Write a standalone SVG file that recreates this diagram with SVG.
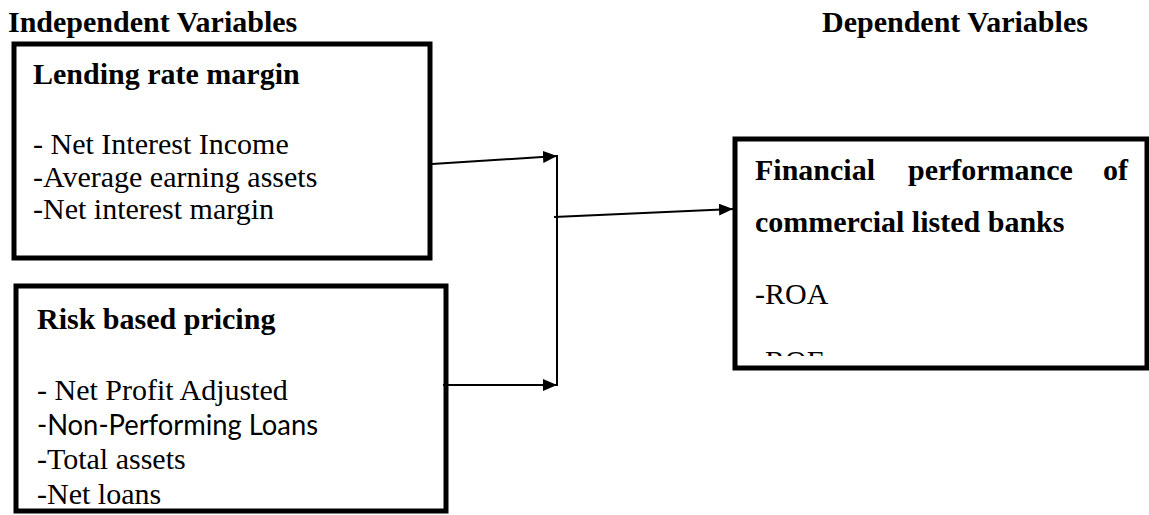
<svg xmlns="http://www.w3.org/2000/svg" width="1149" height="515" viewBox="0 0 1149 515">
<style>
.hd{font-family:"Liberation Serif","Times New Roman",serif;font-weight:bold;font-size:30px;fill:#000}
.tx{font-family:"Liberation Serif","Times New Roman",serif;font-size:30px;fill:#000}
.sans{font-family:Lato,"Liberation Sans",sans-serif;font-size:29px;fill:#000}
.box{fill:#fff;stroke:#000;stroke-width:5}
.conn{stroke:#000;stroke-width:2;fill:none}
</style>
<defs>
<marker id="arr" viewBox="0 0 14 12" refX="14" refY="6" markerWidth="14" markerHeight="12" markerUnits="userSpaceOnUse" orient="auto">
<path d="M0,0 L14,6 L0,12 Z" fill="#000"/>
</marker>
<clipPath id="c2"><rect x="16" y="286" width="430" height="218"/></clipPath>
<clipPath id="c3"><rect x="735" y="139" width="410" height="217"/></clipPath>
</defs>
<rect width="1149" height="515" fill="#fff"/>
<text class="hd" x="8" y="32">Independent Variables</text>
<text class="hd" x="822" y="32">Dependent Variables</text>
<g id="lending">
<rect class="box" x="14" y="44" width="416" height="214"/>
<text class="hd" x="33" y="84">Lending rate margin</text>
<text class="tx" x="33" y="154">- Net Interest Income</text>
<text class="tx" x="33" y="187">-Average earning assets</text>
<text class="tx" x="33" y="219">-Net interest margin</text>
</g>
<g id="risk">
<rect class="box" x="16" y="286" width="430" height="225"/>
<g clip-path="url(#c2)">
<text class="hd" x="37" y="329">Risk based pricing</text>
<text class="tx" x="37" y="400">- Net Profit Adjusted</text>
<text class="sans" x="37" y="435" textLength="281" lengthAdjust="spacingAndGlyphs">-Non-Performing Loans</text>
<text class="tx" x="37" y="469">-Total assets</text>
<text class="tx" x="37" y="504">-Net loans</text>
</g>
</g>
<g id="performance">
<rect class="box" x="735" y="139" width="412" height="229"/>
<g clip-path="url(#c3)">
<text class="hd" y="180"><tspan x="755">Financial</tspan><tspan x="908">performance</tspan><tspan x="1103">of</tspan></text>
<text class="hd" x="755" y="232">commercial listed banks</text>
<text class="tx" x="755" y="304">-ROA</text>
<text class="tx" x="755" y="371">-ROE</text>
</g>
</g>
<g id="connectors">
<line class="conn" x1="432" y1="164" x2="557" y2="156" marker-end="url(#arr)"/>
<line class="conn" x1="443" y1="385" x2="557" y2="385" marker-end="url(#arr)"/>
<line class="conn" x1="557" y1="155" x2="557" y2="386"/>
<line class="conn" x1="554" y1="217" x2="733" y2="209" marker-end="url(#arr)"/>
</g>
</svg>
